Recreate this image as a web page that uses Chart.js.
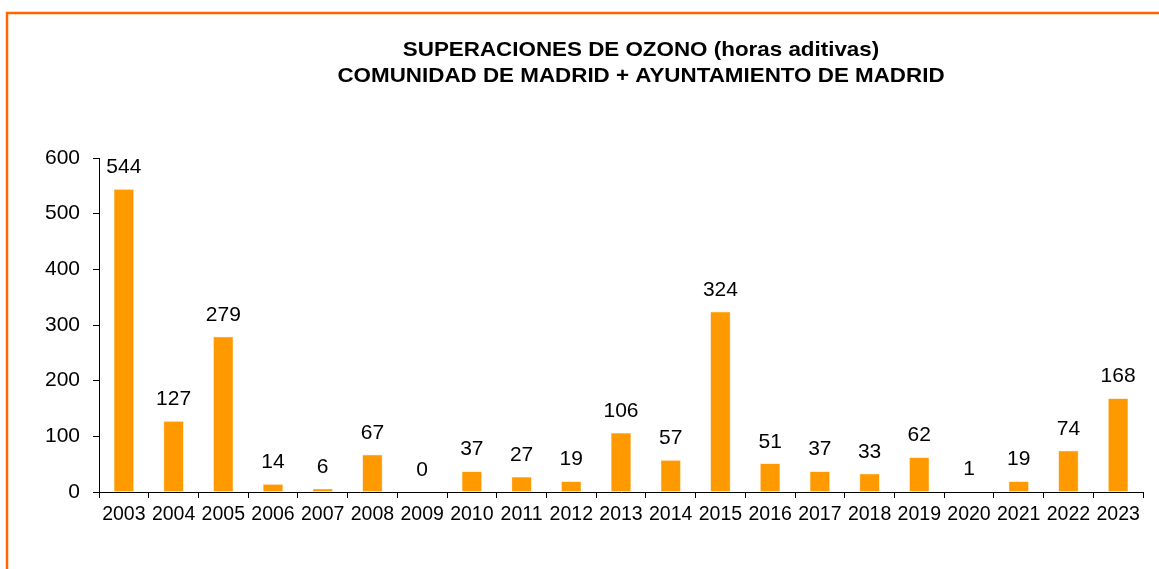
<!DOCTYPE html>
<html>
<head>
<meta charset="utf-8">
<script src="https://cdn.jsdelivr.net/npm/chart.js@4"></script>
<style>
  html, body { margin: 0; padding: 0; background: #fff; }
  #wrap { width: 1159px; height: 569px; position: relative; }
</style>
</head>
<body>
<div id="wrap"><canvas id="chart" width="1159" height="569"></canvas></div>
<script>
// ==================================================
// DATA
// ==================================================
const years = ["2003", "2004", "2005", "2006", "2007", "2008", "2009", "2010", "2011", "2012",
  "2013", "2014", "2015", "2016", "2017", "2018", "2019", "2020", "2021", "2022", "2023"];
const hours = [544, 127, 279, 14, 6, 67, 0, 37, 27, 19, 106, 57, 324, 51, 37, 33, 62, 1, 19, 74, 168];
const titleLines = ["SUPERACIONES DE OZONO (horas aditivas)", "COMUNIDAD DE MADRID + AYUNTAMIENTO DE MADRID"];

const FONT = "'Liberation Sans', Arial, sans-serif";

// frame + title + value labels
const decorPlugin = {
  id: "decor",
  afterDraw(chart) {
    const ctx = chart.ctx;
    ctx.save();
    // orange frame (top and left only visible)
    ctx.strokeStyle = "#FF6600";
    ctx.lineWidth = 2.5;
    ctx.beginPath();
    ctx.moveTo(7, 569);
    ctx.lineTo(7, 13);
    ctx.lineTo(1159, 13);
    ctx.stroke();

    // title (slightly stretched, like the original picture)
    ctx.fillStyle = "#000";
    ctx.font = "bold 21px " + FONT;
    ctx.textAlign = "center";
    ctx.textBaseline = "middle";
    ctx.save();
    ctx.translate(641, 0);
    ctx.scale(1.066, 1);
    ctx.fillText(titleLines[0], 0, 50);
    ctx.fillText(titleLines[1], 0, 76);
    ctx.restore();

    // value labels
    ctx.font = "21px " + FONT;
    ctx.textBaseline = "alphabetic";
    const meta = chart.getDatasetMeta(0);
    meta.data.forEach((bar, i) => {
      ctx.fillText(String(hours[i]), bar.x, bar.y - 16);
    });
    ctx.restore();
  },
};

new Chart(document.getElementById("chart"), {
  type: "bar",
  data: {
    labels: years,
    datasets: [
      {
        data: hours,
        backgroundColor: "#FF9900",
        borderColor: "#FFB84D",
        borderWidth: 0.5,
        barPercentage: 0.4,
        categoryPercentage: 1,
      },
    ],
  },
  options: {
    responsive: false,
    animation: false,
    devicePixelRatio: 1,
    layout: { padding: { left: 0, right: 16, top: 158, bottom: 0 } },
    plugins: {
      legend: { display: false },
      title: { display: false },
      tooltip: { enabled: false },
    },
    scales: {
      x: {
        afterFit(scale) { scale.height = 77; },
        grid: { drawOnChartArea: false, drawTicks: true, tickLength: 6, color: "#000" },
        border: { display: true, color: "#000", width: 1 },
        ticks: { color: "#000", font: { family: FONT, size: 19.5 }, padding: 5, maxRotation: 0, autoSkip: false },
      },
      y: {
        min: 0,
        max: 600,
        afterFit(scale) { scale.width = 99; },
        grid: { drawOnChartArea: false, drawTicks: true, tickLength: 6, color: "#000" },
        border: { display: true, color: "#000", width: 1 },
        ticks: { stepSize: 100, color: "#000", font: { family: FONT, size: 21 }, padding: 13 },
      },
    },
  },
  plugins: [decorPlugin],
});
</script>
</body>
</html>
